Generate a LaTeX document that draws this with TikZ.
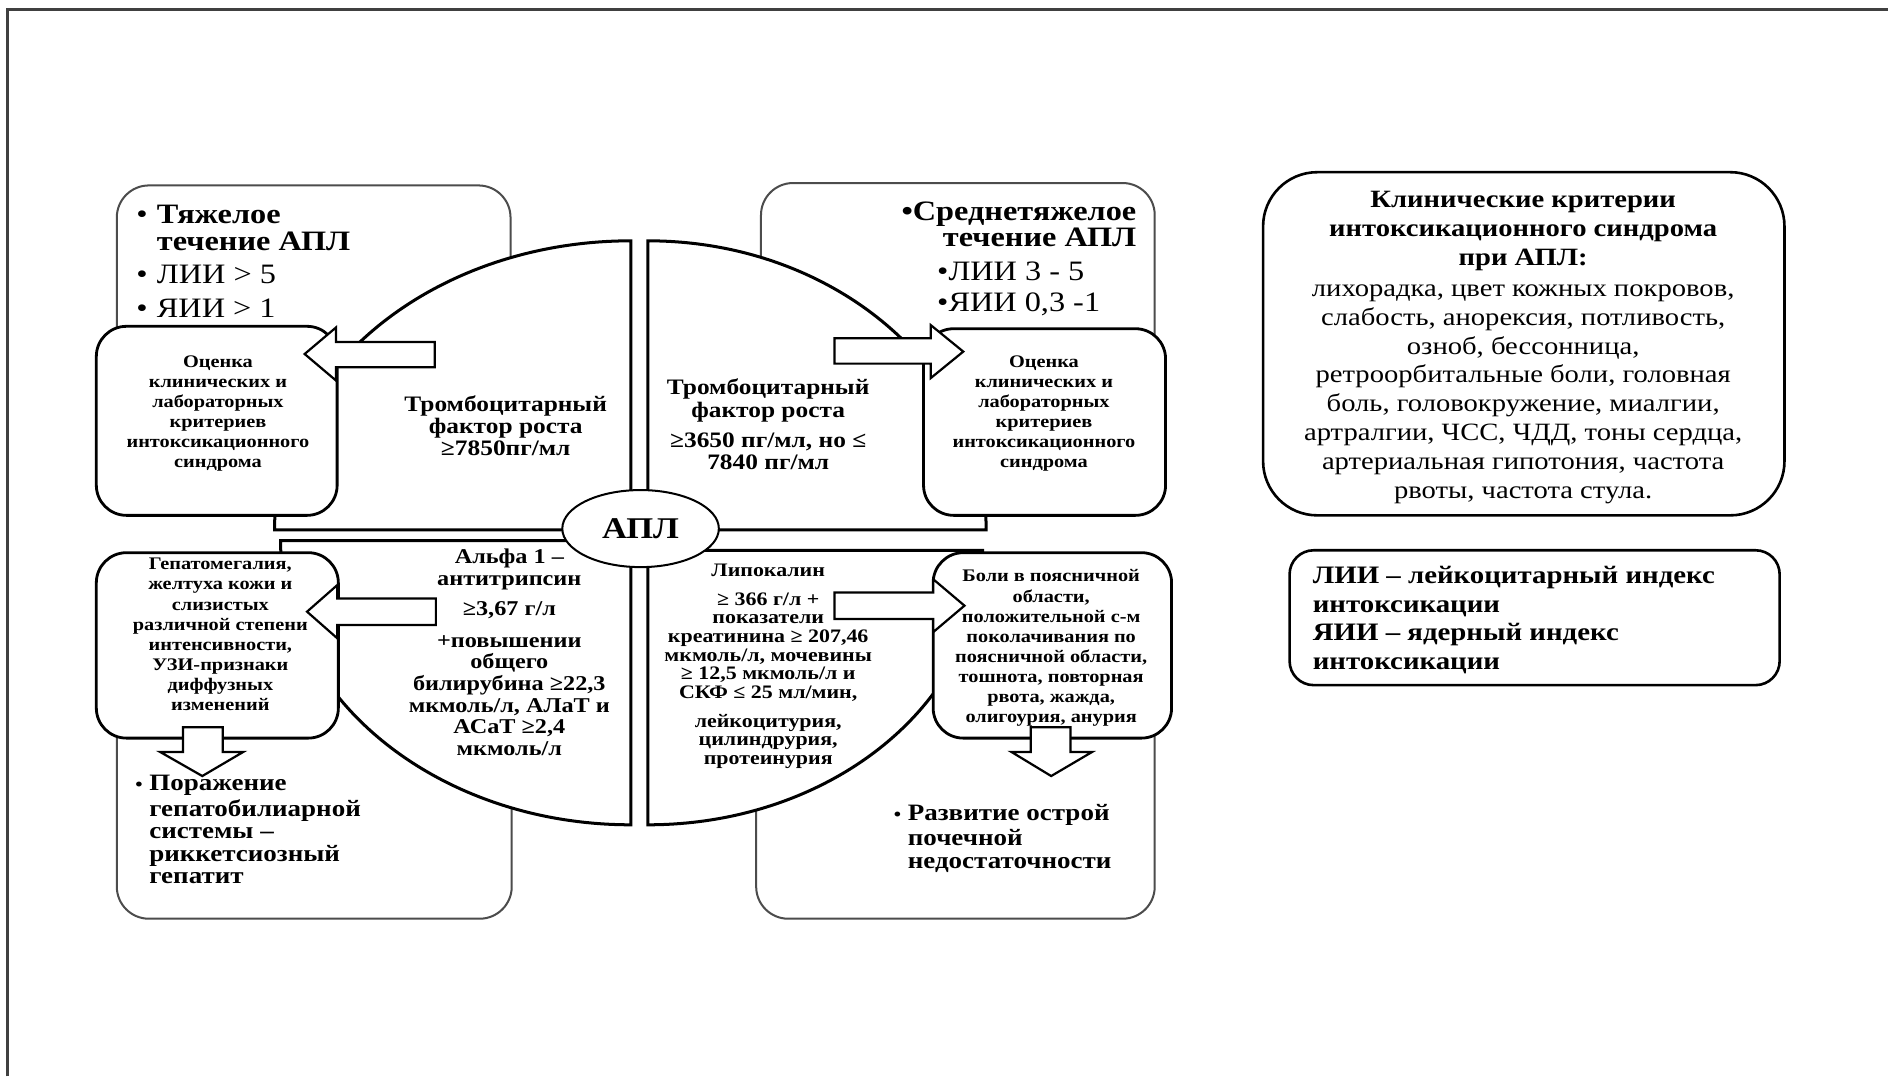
\documentclass[tikz,border=0pt]{standalone}
\usepackage{fontspec}
\setmainfont{Liberation Serif}[FakeStretch=1.15]
\usetikzlibrary{fit,shapes.geometric}
\newcommand{\setfs}[2]{\fontsize{#1}{#2}\selectfont}
\begin{document}
\begin{tikzpicture}[x=0.6pt,y=-0.6pt,
  frame/.style={draw=black!75,line width=1.5pt},
  bgbox/.style={draw=black!70,line width=1pt,fill=white,rounded corners=16pt,inner sep=0pt},
  smallbox/.style={draw=black,line width=1.4pt,fill=white,rounded corners=15pt,inner sep=0pt},
  quad/.style={draw=black,line width=1.5pt,fill=white},
  blockarrow/.style={draw=black,line width=1.1pt,fill=white,line join=miter},
  infobox/.style={draw=black,line width=1.3pt,fill=white,inner sep=0pt},
  txt/.style={inner sep=0pt,align=center,anchor=north},
  ltxt/.style={inner sep=0pt,align=left,anchor=north west}]
\useasboundingbox (0,0) rectangle (1568,894);
\draw[frame] (6.6,894) -- (6.6,8.3) -- (1568,8.3);

% background corner boxes
\node[bgbox,fit={(97,154) (424,425)}] (tlbg) {};
\node[bgbox,fit={(632,152) (959,425)}] (trbg) {};
\node[bgbox,fit={(97,460) (425,763)}] (blbg) {};
\node[bgbox,fit={(628,460) (959,763)}] (brbg) {};

% quadrants
\draw[quad] (524,440) -- (228,440) .. controls (228,307.4) and (360.5,200) .. (524,200) -- cycle;
\draw[quad] (538,440) -- (538,200) .. controls (693.2,200) and (819,307.4) .. (819,440) -- cycle;
\draw[quad] (524,449) -- (233,449) .. controls (233,579.3) and (363.3,685) .. (524,685) -- cycle;
\draw[quad] (538,457) -- (816,457) .. controls (816,582.9) and (691.5,685) .. (538,685) -- cycle;

% small boxes
\node[smallbox,fit={(80,271) (280,428)}] (tlbox) {};
\node[smallbox,fit={(767,273) (968,428)}] (trbox) {};
\node[smallbox,fit={(80,459) (281,613)}] (blbox) {};
\node[smallbox,fit={(775,459) (973,613)}] (brbox) {};

% down arrows
\draw[blockarrow] (152,604) -- (185,604) -- (185,624.5) -- (202,624.5) -- (168,644.5) -- (133,624.5) -- (152,624.5) -- cycle;
\draw[blockarrow] (856,604) -- (889,604) -- (889,624.5) -- (907,624.5) -- (873,644.5) -- (840,624.5) -- (856,624.5) -- cycle;

% side arrows
\draw[blockarrow] (361,284) -- (279,284) -- (279,272) -- (253,294) -- (279,316) -- (279,305) -- (361,305) -- cycle;
\draw[blockarrow] (693,281) -- (773,281) -- (773,270) -- (800,292) -- (773,314) -- (773,302) -- (693,302) -- cycle;
\draw[blockarrow] (362,497) -- (280,497) -- (280,486) -- (255,508) -- (280,530) -- (280,519) -- (362,519) -- cycle;
\draw[blockarrow] (693,492) -- (775,492) -- (775,481) -- (801,503) -- (775,525) -- (775,514) -- (693,514) -- cycle;

% right info boxes
\node[infobox,rounded corners=27pt,fit={(1049,143) (1482,428)}] (crit) {};
\node[infobox,rounded corners=12pt,fit={(1071,457) (1478,569)}] (abbr) {};

% centre
\node[ellipse,draw=black,line width=1pt,fill=white,minimum width=78pt,minimum height=38.4pt,inner sep=0pt,font=\setfs{15}{15}\bfseries] (apl) at (532,439) {АПЛ};

% texts
\node[ltxt,font=\setfs{14}{13.8}] (tltitle) at (113,168.9) {\strut\makebox[10.2pt][l]{•}\textbf{Тяжелое}\\\hspace*{10.2pt}\textbf{течение АПЛ}\\[2.4pt]\makebox[10.2pt][l]{•}ЛИИ > 5\\[3pt]\makebox[10.2pt][l]{•}ЯИИ > 1};

\node[inner sep=0pt,anchor=base east,font=\setfs{14}{13.8}\bfseries] (trt1) at (944,183) {•Среднетяжелое};
\node[inner sep=0pt,anchor=base east,font=\setfs{14}{13.8}\bfseries] (trt2) at (944,205) {течение АПЛ};
\node[inner sep=0pt,anchor=base west,font=\setfs{14}{13.8}] (trt3) at (778,233) {•ЛИИ 3 - 5};
\node[inner sep=0pt,anchor=base west,font=\setfs{14}{13.8}] (trt4) at (778,259) {•ЯИИ 0,3 -1};

\node[txt,font=\setfs{11}{11.1}\bfseries] (tlq) at (420,328) {\strut Тромбоцитарный\\фактор роста\\≥7850пг/мл};
\node[txt,font=\setfs{11}{11.4}\bfseries] (trq) at (638,313.7) {\strut Тромбоцитарный\\фактор роста\\[3.6pt]≥3650 пг/мл, но ≤\\7840 пг/мл};
\node[txt,font=\setfs{10.5}{10.8}\bfseries] (blq) at (423,455.4) {\strut Альфа 1 –\\антитрипсин\\[4.2pt]≥3,67 г/л\\[4.8pt]+повышении\\общего\\билирубина ≥22,3\\мкмоль/л, АЛаТ и\\АСаТ ≥2,4\\мкмоль/л};
\node[txt,font=\setfs{9.5}{9.3}\bfseries] (brq) at (638,467.3) {\strut Липокалин\\[5.2pt]≥ 366 г/л +\\показатели\\креатинина ≥ 207,46\\мкмоль/л, мочевины\\≥ 12,5 мкмоль/л и\\СКФ ≤ 25 мл/мин,\\[5pt]лейкоцитурия,\\цилиндрурия,\\протеинурия};

\node[txt,font=\setfs{8.8}{10}\bfseries] (tlboxt) at (181,293.3) {\strut Оценка\\клинических и\\лабораторных\\критериев\\интоксикационного\\синдрома};
\node[txt,font=\setfs{8.8}{10}\bfseries] (trboxt) at (867,293.3) {\strut Оценка\\клинических и\\лабораторных\\критериев\\интоксикационного\\синдрома};
\node[txt,font=\setfs{8.8}{10}\bfseries] (blboxt) at (183,461.3) {\strut Гепатомегалия,\\желтуха кожи и\\слизистых\\различной степени\\интенсивности,\\УЗИ-признаки\\диффузных\\изменений};
\node[txt,font=\setfs{8.8}{10}\bfseries] (brboxt) at (873,471.3) {\strut Боли в поясничной\\области,\\положительной с-м\\поколачивания по\\поясничной области,\\тошнота, повторная\\рвота, жажда,\\олигоурия, анурия};

\node[ltxt,font=\setfs{11.7}{11.25}\bfseries] (blt) at (112,643) {\strut\makebox[7pt][l]{\setfs{9}{9}•}Поражение\\\hspace*{7pt}гепатобилиарной\\\hspace*{7pt}системы –\\\hspace*{7pt}риккетсиозный\\\hspace*{7pt}гепатит};
\node[ltxt,font=\setfs{11.7}{11.1}\bfseries] (brt) at (742,668) {\strut\makebox[7pt][l]{\setfs{9}{9}•}Развитие острой\\\hspace*{7pt}почечной\\\hspace*{7pt}недостаточности};

\node[txt,font=\setfs{12.4}{14.35}] (critt) at (1265,155.5) {\strut\textbf{Клинические критерии}\\\textbf{интоксикационного синдрома}\\\textbf{при АПЛ:}\\[1.2pt]лихорадка, цвет кожных покровов,\\слабость, анорексия, потливость,\\озноб, бессонница,\\ретроорбитальные боли, головная\\боль, головокружение, миалгии,\\артралгии, ЧСС, ЧДД, тоны сердца,\\артериальная гипотония, частота\\рвоты, частота стула.};
\node[ltxt,font=\setfs{12.5}{14.4}\bfseries] (abbrt) at (1090,467.2) {\strut ЛИИ – лейкоцитарный индекс\\интоксикации\\ЯИИ – ядерный индекс\\интоксикации};
\end{tikzpicture}
\end{document}
